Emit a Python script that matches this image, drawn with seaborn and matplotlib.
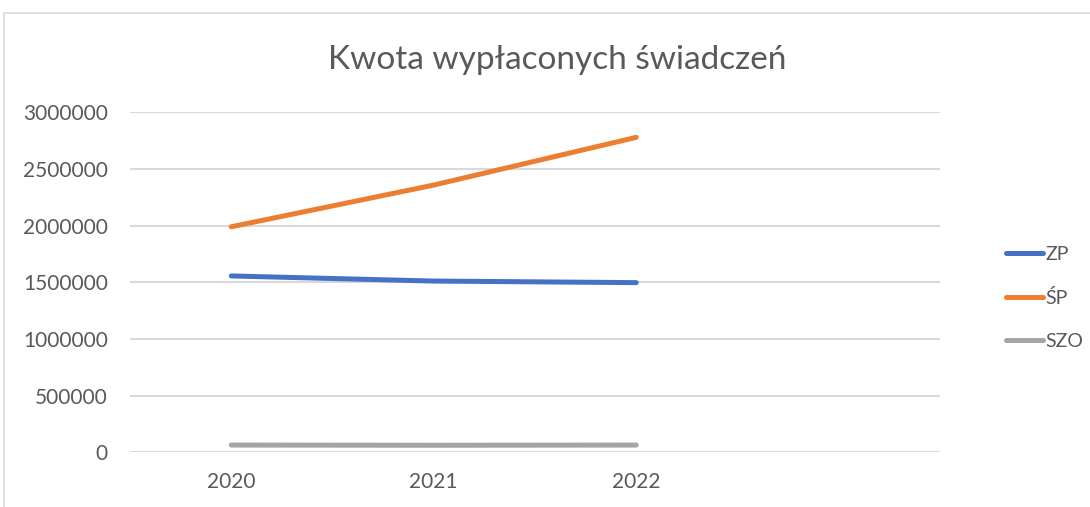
import numpy as np
import pandas as pd
import matplotlib
matplotlib.use('Agg')
import matplotlib.pyplot as plt
import seaborn as sns
from matplotlib.patches import Rectangle

# ─── Data ─────────────────────────────────────────────────────────────────────
years = ['2020', '2021', '2022']
series_names = ['ZP', 'ŚP', 'SZO']
zp_values = [1556000, 1511000, 1497000]
sp_values = [1990000, 2358000, 2779000]
szo_values = [64000, 62000, 64000]
y_ticks = [0, 500000, 1000000, 1500000, 2000000, 2500000, 3000000]
colors = ['#4472c4', '#ed7d31', '#a5a5a5']

df = pd.DataFrame({
    'pos': list(range(len(years))) * 3,
    'value': zp_values + sp_values + szo_values,
    'series': [s for s in series_names for _ in years],
})

sns.set_theme(style='white')
plt.rcParams['font.family'] = ['Lato', 'DejaVu Sans']

fig = plt.figure(figsize=(10.9, 5.07), dpi=100)
fig.patches.append(Rectangle((4 / 1090, -0.1), 1.2, 1 - 13 / 507 + 0.1,
                             transform=fig.transFigure, fill=False,
                             edgecolor='#d9d9d9', linewidth=1.2))

ax = fig.add_axes([130 / 1090, 1 - 452.3 / 507, 810 / 1090, 340 / 507])

sns.lineplot(data=df, x='pos', y='value', hue='series', hue_order=series_names,
             palette=colors, linewidth=3.6, ax=ax, solid_capstyle='round')

ax.set_xlim(-0.5, 3.5)
ax.set_ylim(0, 3000000)
ax.set_xticks(range(len(years)))
ax.set_xticklabels(years)
ax.set_yticks(y_ticks)
ax.set_yticklabels([str(v) for v in y_ticks])
ax.set_xlabel('')
ax.set_ylabel('')
ax.tick_params(axis='both', length=0, labelsize=15, colors='#595959')
ax.tick_params(axis='x', pad=14)
ax.tick_params(axis='y', pad=16)
for s in ax.spines.values():
    s.set_visible(False)
ax.grid(axis='y', color='#d9d9d9', linewidth=1.5)
ax.set_axisbelow(True)

fig.text(557 / 1090, 1 - 60 / 507, 'Kwota wypłaconych świadczeń',
         ha='center', va='center', fontsize=24, color='#595959')

handles, labels = ax.get_legend_handles_labels()
leg = ax.legend(handles, labels, loc='center left',
                bbox_to_anchor=(992 / 1090, 1 - 298 / 507),
                bbox_transform=fig.transFigure, frameon=False,
                handlelength=1.9, handletextpad=0.15, labelspacing=1.35,
                fontsize=14, labelcolor='#595959', borderpad=0.2)
for line in leg.get_lines():
    line.set_linewidth(3.6)
    line.set_solid_capstyle('round')

fig.savefig('out.png', dpi=100)
